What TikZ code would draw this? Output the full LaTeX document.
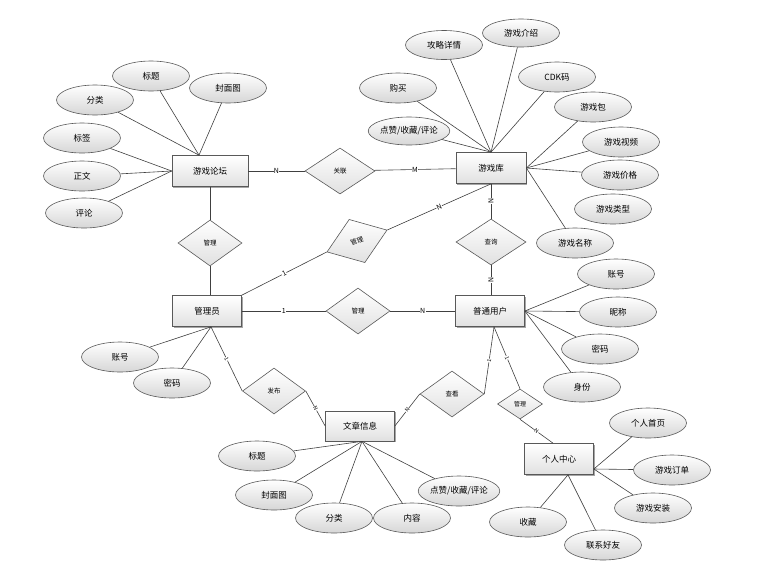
\documentclass[tikz,border=0pt]{standalone}
\usepackage{fontspec}
\setmainfont{Noto Sans CJK SC}
\usetikzlibrary{shapes.geometric,shadows}
\begin{document}
\begin{tikzpicture}[x=1pt,y=-1pt,
  attr/.style={ellipse, draw=black!65, line width=0.6pt, top color=white, bottom color=black!16,
    minimum width=77pt, minimum height=30pt, inner sep=0pt, font=\fontsize{8.5}{10}\selectfont},
  ent/.style={rectangle, draw=black!65, line width=0.7pt, top color=white, bottom color=black!12,
    minimum width=70pt, minimum height=31pt, inner sep=0pt, font=\fontsize{8.5}{10}\selectfont,
    drop shadow={shadow xshift=1.2pt, shadow yshift=-1.2pt, opacity=0.35, fill=black}},
  rel/.style={diamond, draw=black!65, line width=0.6pt, top color=white, bottom color=black!12,
    minimum width=64pt, minimum height=46pt, inner sep=0pt, font=\fontsize{6.5}{8}\selectfont},
  link/.style={draw=black!75, line width=0.6pt},
  card/.style={fill=white, inner sep=0.4pt, font=\fontsize{7}{8}\selectfont},
  tinycard/.style={fill=white, inner sep=0.3pt, font=\fontsize{5.5}{6}\selectfont},
]
\useasboundingbox (0,0) rectangle (781,576);

% entities
\node[ent, minimum width=76pt] (forum) at (210,171) {游戏论坛};
\node[ent] (lib) at (491,168) {游戏库};
\node[ent, minimum width=69pt] (admin) at (207,311) {管理员};
\node[ent, minimum width=69pt] (user) at (490,311) {普通用户};
\node[ent, minimum width=69pt, minimum height=30pt] (art) at (360,426) {文章信息};
\node[ent, minimum width=69pt] (pc) at (559,459) {个人中心};

% relationships
\node[rel, minimum width=70pt] (rAssoc) at (340,171) {关联};
\node[rel] (rMgrF) at (210,243) {管理};
\node[rel] (rMgrU) at (358,311) {管理};
\node[rel, minimum width=70pt] (rQuery) at (491,242) {查询};
\node[rel, rotate=20] (rMgrL) at (357,241) {管理};
\node[rel, minimum width=63pt] (rPub) at (274,391) {发布};
\node[rel] (rView) at (452,394) {查看};
\node[rel, minimum width=45pt, minimum height=30pt, font=\fontsize{6}{7}\selectfont] (rMgrP) at (520,404) {管理};

% forum attributes
\node[attr] (fTitle) at (151,76) {标题};
\node[attr] (fCover) at (228,88) {封面图};
\node[attr] (fCat) at (95,100) {分类};
\node[attr] (fTag) at (82,138) {标签};
\node[attr] (fBody) at (82,176) {正文};
\node[attr] (fCmt) at (84,213) {评论};

% library attributes
\node[attr, minimum height=29pt] (lGuide) at (444,45) {攻略详情};
\node[attr, minimum height=28pt] (lIntro) at (521,33) {游戏介绍};
\node[attr] (lCdk) at (557,77) {CDK码};
\node[attr] (lBuy) at (398,88) {购买};
\node[attr] (lPkg) at (593,107) {游戏包};
\node[attr, minimum height=28pt] (lLike) at (409,131) {点赞/收藏/评论};
\node[attr] (lVideo) at (621,142) {游戏视频};
\node[attr] (lPrice) at (620,175) {游戏价格};
\node[attr] (lType) at (613,209) {游戏类型};
\node[attr] (lName) at (575,243) {游戏名称};

% admin attributes
\node[attr] (aAcct) at (120,357) {账号};
\node[attr] (aPwd) at (172,383) {密码};

% user attributes
\node[attr] (uAcct) at (616,274) {账号};
\node[attr] (uNick) at (618,312) {昵称};
\node[attr] (uPwd) at (600,349) {密码};
\node[attr] (uRole) at (582,387) {身份};

% article attributes
\node[attr] (tTitle) at (257,456) {标题};
\node[attr] (tCover) at (274,495) {封面图};
\node[attr] (tCat) at (334,518) {分类};
\node[attr] (tContent) at (412,518) {内容};
\node[attr] (tLike) at (459,491) {点赞/收藏/评论};

% personal center attributes
\node[attr] (pHome) at (648,423) {个人首页};
\node[attr] (pOrder) at (672,470) {游戏订单};
\node[attr] (pInstall) at (653,508) {游戏安装};
\node[attr] (pFav) at (528,522) {收藏};
\node[attr] (pFriend) at (603,545) {联系好友};

% anchor points
\coordinate (fTop) at ([xshift=-11pt]forum.north);
\coordinate (aBot) at ([xshift=4pt]admin.south);
\coordinate (uBot) at ([xshift=4pt]user.south);
\coordinate (tBot) at ([xshift=2pt]art.south);
\coordinate (pRight) at ([yshift=-10pt]pc.east);
\coordinate (pBot) at ([xshift=9pt]pc.south);
\coordinate (pTop) at ([xshift=-6pt]pc.north);

% forum attribute links
\foreach \a in {fCat,fTitle,fCover} \draw[link] (\a) -- (fTop);
\foreach \a in {fTag,fBody,fCmt} \draw[link] (\a) -- (forum.west);

% library attribute links
\foreach \a in {lGuide,lIntro,lCdk,lBuy,lLike} \draw[link] (\a) -- (lib.north);
\foreach \a in {lPkg,lVideo,lPrice,lName} \draw[link] (\a) -- (lib.east);

% admin / user / article / pc attribute links
\foreach \a in {aAcct,aPwd} \draw[link] (\a) -- (aBot);
\foreach \a in {uAcct,uNick,uPwd,uRole} \draw[link] (\a) -- (user.east);
\foreach \a in {tTitle,tCover,tCat,tContent,tLike} \draw[link] (\a) -- (tBot);
\foreach \a in {pHome,pOrder,pInstall} \draw[link] (\a) -- (pRight);
\foreach \a in {pFav,pFriend} \draw[link] (\a) -- (pBot);

% relationship links
\draw[link] (forum) -- node[card]{N} (rAssoc);
\draw[link] (rAssoc) -- node[card]{M} (lib);
\draw[link] (forum.south) -- (rMgrF.north);
\draw[link] (rMgrF.south) -- (rMgrF.south |- admin.north);
\draw[link] (admin) -- node[card]{1} (rMgrU);
\draw[link] (rMgrU) -- node[card]{N} (user);
\draw[link] (admin.north east) -- node[card, sloped]{1} (rMgrL.west);
\draw[link] (rMgrL.east) -- node[card, sloped]{N} (lib.south);
\draw[link] (lib.south) -- node[card, sloped]{N} (rQuery.north);
\draw[link] (rQuery.south) -- node[card, sloped]{N} (rQuery.south |- user.north);
\draw[link] (aBot) -- node[tinycard, sloped]{1} (rPub.west);
\draw[link] (rPub.east) -- node[tinycard, sloped]{N} (art.west);
\draw[link] (rView.west) -- node[tinycard, sloped]{N} (art.east);
\draw[link] (rView.east) -- node[tinycard, sloped]{1} (uBot);
\draw[link] (uBot) -- node[tinycard, sloped]{1} (rMgrP.north);
\draw[link] (rMgrP.south) -- node[tinycard, sloped]{N} (pTop);
\end{tikzpicture}
\end{document}
